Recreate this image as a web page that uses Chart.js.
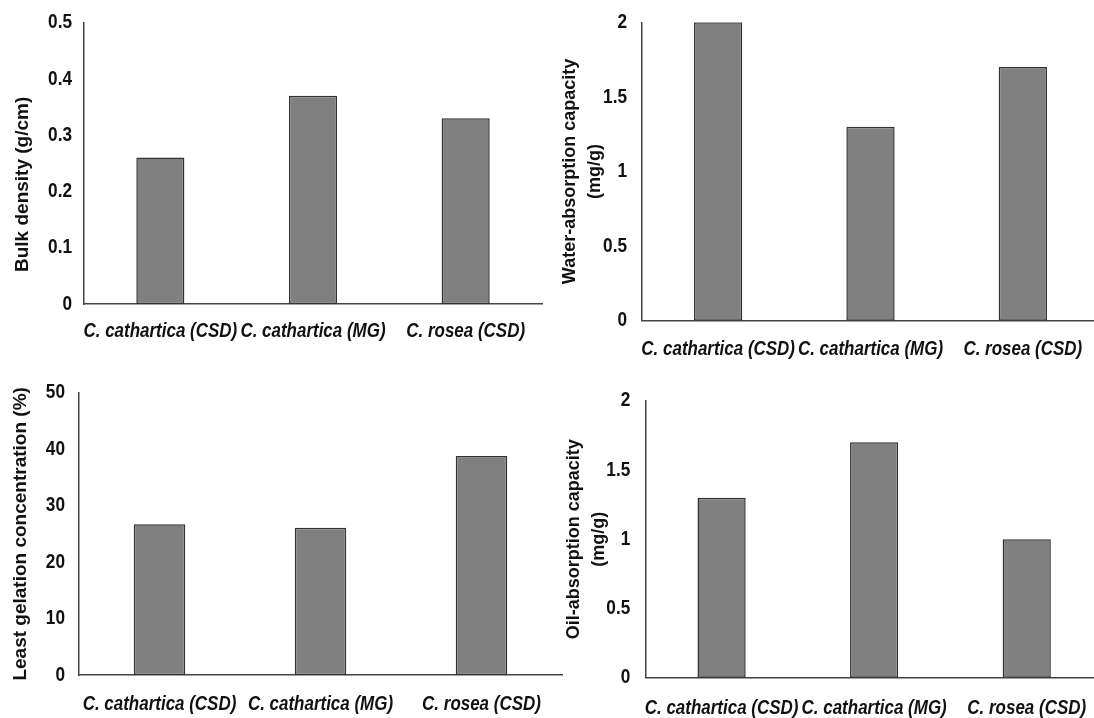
<!DOCTYPE html>
<html>
<head>
<meta charset="utf-8">
<script src="https://cdn.jsdelivr.net/npm/chart.js@4"></script>
<style>
  html, body { margin: 0; padding: 0; background: #fff; overflow: hidden; }
  #wrap { position: relative; width: 1094px; height: 718px; overflow: hidden; }
  canvas { position: absolute; }
</style>
</head>
<body>
<div id="wrap">
  <canvas id="c1" width="580" height="370" style="left:0;top:0"></canvas>
  <canvas id="c2" width="580" height="370" style="left:540px;top:0"></canvas>
  <canvas id="c3" width="580" height="348" style="left:0;top:370px"></canvas>
  <canvas id="c4" width="580" height="338" style="left:540px;top:380px"></canvas>
</div>
<script>
// data
const categories = ['C. cathartica (CSD)', 'C. cathartica (MG)', 'C. rosea (CSD)'];

const bulkDensity = [0.26, 0.37, 0.33];
const waterAbsorption = [2.0, 1.3, 1.7];
const leastGelation = [26.7, 26.1, 38.8];
const oilAbsorption = [1.3, 1.7, 1.0];

const bulkTicks = [0, 0.1, 0.2, 0.3, 0.4, 0.5];
const waterTicks = [0, 0.5, 1, 1.5, 2];
const gelationTicks = [0, 10, 20, 30, 40, 50];
const oilTicks = [0, 0.5, 1, 1.5, 2];

// no Arial Narrow here: squeeze Liberation Sans horizontally instead
const narrow = '"Arial Narrow", "Liberation Sans", sans-serif';
const plain = '"Liberation Sans", Arial, sans-serif';

const baseFill = CanvasRenderingContext2D.prototype.fillText;
const baseMeasure = CanvasRenderingContext2D.prototype.measureText;
CanvasRenderingContext2D.prototype.fillText = function (text, x, y, maxWidth) {
    if (this.font.indexOf('Narrow') < 0) {
        return maxWidth === undefined ? baseFill.call(this, text, x, y) : baseFill.call(this, text, x, y, maxWidth);
    }
    this.save();
    this.translate(x, y);
    this.scale(0.82, 1);
    baseFill.call(this, text, 0, 0);
    this.restore();
};
CanvasRenderingContext2D.prototype.measureText = function (text) {
    const m = baseMeasure.call(this, text);
    if (this.font.indexOf('Narrow') < 0) return m;
    return { width: m.width * 0.82, actualBoundingBoxAscent: m.actualBoundingBoxAscent, actualBoundingBoxDescent: m.actualBoundingBoxDescent };
};

function barChart(id, values, ticks, title, g) {
    new Chart(document.getElementById(id), {
        type: 'bar',
        data: {
            labels: categories,
            datasets: [{
                data: values,
                backgroundColor: '#808080',
                borderColor: '#333333',
                borderWidth: 1.5,
                borderSkipped: false,
                categoryPercentage: 1,
                barPercentage: g.barPct,
            }],
        },
        options: {
            responsive: false,
            animation: false,
            devicePixelRatio: 1,
            layout: { padding: { top: g.padTop, right: g.padRight, left: 0, bottom: 0 } },
            plugins: { legend: { display: false }, tooltip: { enabled: false } },
            scales: {
                x: {
                    grid: { display: false, drawTicks: false },
                    border: { display: true, color: '#444', width: 1.5 },
                    ticks: {
                        color: '#111',
                        padding: g.catPad,
                        autoSkip: false,
                        maxRotation: 0,
                        minRotation: 0,
                        font: { family: narrow, size: 20.7, weight: 'bold', style: 'italic' },
                    },
                    afterFit: s => { s.height = g.xHeight; },
                },
                y: {
                    min: ticks[0],
                    max: ticks[ticks.length - 1],
                    grid: { display: false, drawTicks: false },
                    border: { display: true, color: '#444', width: 1.5 },
                    ticks: {
                        color: '#111',
                        padding: g.tickPad,
                        font: { family: narrow, size: 21, weight: 'bold' },
                        callback: v => String(v),
                    },
                    afterBuildTicks: s => { s.ticks = ticks.map(v => ({ value: v })); },
                    title: {
                        display: true,
                        text: title,
                        color: '#111',
                        padding: { top: g.titlePad, bottom: 0 },
                        font: { family: plain, size: g.titleSize, weight: 'bold', lineHeight: 1.4 },
                    },
                    afterFit: s => {
                        s.width = g.yWidth;
                        s.paddingTop = 0;
                        s.paddingBottom = 0;
                    },
                },
            },
        },
    });
}

barChart('c1', bulkDensity, bulkTicks, 'Bulk density (g/cm)' + '\u00a0'.repeat(8),
    { yWidth: 84, padTop: 22.5, padRight: 38, xHeight: 66, tickPad: 12, titlePad: 9, catPad: 15, barPct: 0.315, titleSize: 19 });
barChart('c2', waterAbsorption, waterTicks, ['Water-absorption capacity', '(mg/g)'],
    { yWidth: 102, padTop: 22.3, padRight: 21, xHeight: 49.3, tickPad: 15, titlePad: 17, catPad: 16, barPct: 0.317, titleSize: 18 });
barChart('c3', leastGelation, gelationTicks, 'Least gelation concentration (%)',
    { yWidth: 79, padTop: 22.7, padRight: 18, xHeight: 43, tickPad: 14, titlePad: 7, catPad: 17, barPct: 0.32, titleSize: 19 });
barChart('c4', oilAbsorption, oilTicks, ['Oil-absorption capacity', '(mg/g)'],
    { yWidth: 105.3, padTop: 20.7, padRight: 17, xHeight: 40.3, tickPad: 15, titlePad: 21, catPad: 18, barPct: 0.316, titleSize: 18 });
</script>
</body>
</html>
